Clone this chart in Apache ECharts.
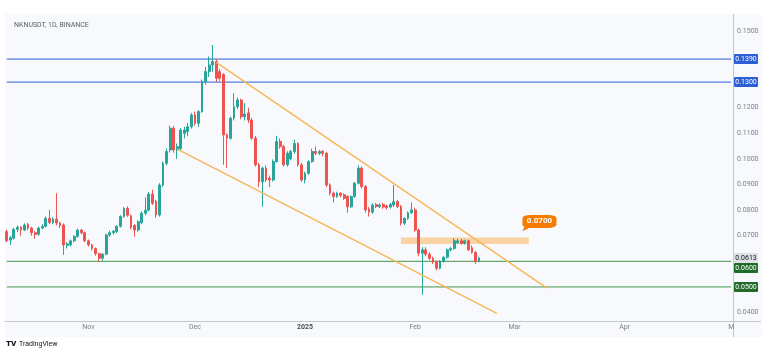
<!DOCTYPE html>
<html>
<head>
<meta charset="utf-8">
<script src="https://cdn.jsdelivr.net/npm/echarts@6/dist/echarts.min.js"></script>
<style>
  html, body { margin: 0; padding: 0; background: #fff; }
  #chart { width: 768px; height: 354px; }
</style>
</head>
<body>
<div id="chart"></div>
<script>
// daily candles NKNUSDT, first candle 2024-10-09
const startDate = '2024-10-09'
const dayCount = 205 // axis runs up to 2025-05-01

// [open, close, low, high]
const candles = [
  [0.0716, 0.0681, 0.0675, 0.0725], [0.0683, 0.0692, 0.0664, 0.0700], [0.0690, 0.0725, 0.0685, 0.0730],
  [0.0725, 0.0733, 0.0715, 0.0740], [0.0733, 0.0722, 0.0700, 0.0738], [0.0722, 0.0742, 0.0718, 0.0748],
  [0.0745, 0.0730, 0.0722, 0.0750], [0.0730, 0.0712, 0.0700, 0.0735], [0.0712, 0.0705, 0.0688, 0.0718],
  [0.0706, 0.0730, 0.0700, 0.0735], [0.0730, 0.0737, 0.0725, 0.0745], [0.0737, 0.0768, 0.0732, 0.0775],
  [0.0768, 0.0752, 0.0745, 0.0801], [0.0752, 0.0765, 0.0745, 0.0772], [0.0765, 0.0750, 0.0740, 0.0866],
  [0.0750, 0.0740, 0.0730, 0.0755], [0.0742, 0.0664, 0.0625, 0.0748], [0.0662, 0.0668, 0.0650, 0.0675],
  [0.0665, 0.0680, 0.0658, 0.0685], [0.0680, 0.0697, 0.0675, 0.0702], [0.0697, 0.0722, 0.0692, 0.0728],
  [0.0722, 0.0712, 0.0705, 0.0727], [0.0712, 0.0680, 0.0675, 0.0716], [0.0680, 0.0664, 0.0658, 0.0685],
  [0.0664, 0.0650, 0.0642, 0.0668], [0.0650, 0.0630, 0.0622, 0.0654], [0.0630, 0.0612, 0.0599, 0.0634],
  [0.0612, 0.0628, 0.0603, 0.0632], [0.0628, 0.0703, 0.0624, 0.0708], [0.0703, 0.0712, 0.0695, 0.0720],
  [0.0712, 0.0718, 0.0705, 0.0722], [0.0716, 0.0737, 0.0710, 0.0741], [0.0737, 0.0775, 0.0732, 0.0780],
  [0.0775, 0.0807, 0.0770, 0.0812], [0.0807, 0.0780, 0.0774, 0.0815], [0.0778, 0.0732, 0.0725, 0.0783],
  [0.0740, 0.0722, 0.0696, 0.0745], [0.0722, 0.0755, 0.0716, 0.0760], [0.0751, 0.0788, 0.0745, 0.0795],
  [0.0788, 0.0800, 0.0780, 0.0850], [0.0800, 0.0863, 0.0795, 0.0870], [0.0863, 0.0827, 0.0820, 0.0880],
  [0.0835, 0.0781, 0.0770, 0.0840], [0.0781, 0.0898, 0.0775, 0.0905], [0.0898, 0.0983, 0.0890, 0.0990],
  [0.0983, 0.1029, 0.0975, 0.1040], [0.1035, 0.1120, 0.1025, 0.1130], [0.1120, 0.1035, 0.1025, 0.1128],
  [0.1035, 0.1048, 0.1000, 0.1060], [0.1040, 0.1113, 0.1035, 0.1120], [0.1100, 0.1113, 0.1080, 0.1125],
  [0.1107, 0.1126, 0.1090, 0.1140], [0.1126, 0.1172, 0.1118, 0.1180], [0.1172, 0.1139, 0.1130, 0.1185],
  [0.1139, 0.1185, 0.1125, 0.1190], [0.1185, 0.1302, 0.1180, 0.1310], [0.1302, 0.1341, 0.1290, 0.1360],
  [0.1341, 0.1367, 0.1320, 0.1400], [0.1367, 0.1380, 0.1340, 0.1445], [0.1380, 0.1315, 0.1300, 0.1390],
  [0.1341, 0.1315, 0.1305, 0.1350], [0.1330, 0.1094, 0.0977, 0.1335], [0.1094, 0.1081, 0.0965, 0.1100],
  [0.1081, 0.1159, 0.1075, 0.1165], [0.1159, 0.1204, 0.1150, 0.1257], [0.1204, 0.1230, 0.1195, 0.1240],
  [0.1230, 0.1165, 0.1155, 0.1235], [0.1165, 0.1175, 0.1150, 0.1218], [0.1180, 0.1152, 0.1140, 0.1200],
  [0.1152, 0.1081, 0.1075, 0.1160], [0.1081, 0.0977, 0.0970, 0.1090], [0.0977, 0.0911, 0.0890, 0.0985],
  [0.0911, 0.0964, 0.0813, 0.0970], [0.0964, 0.0918, 0.0910, 0.0975], [0.0925, 0.0918, 0.0890, 0.0935],
  [0.0918, 0.0990, 0.0912, 0.0998], [0.0990, 0.1068, 0.0985, 0.1090], [0.1068, 0.1048, 0.1040, 0.1080],
  [0.1048, 0.0977, 0.0970, 0.1055], [0.0977, 0.1022, 0.0970, 0.1030], [0.1000, 0.1029, 0.0995, 0.1035],
  [0.1029, 0.1060, 0.1020, 0.1075], [0.1060, 0.0977, 0.0970, 0.1065], [0.0977, 0.0918, 0.0910, 0.0985],
  [0.0918, 0.0944, 0.0905, 0.0950], [0.0944, 0.0990, 0.0938, 0.0995], [0.0990, 0.1029, 0.0985, 0.1040],
  [0.1029, 0.1022, 0.1015, 0.1048], [0.1022, 0.1029, 0.1015, 0.1035], [0.1029, 0.1022, 0.1010, 0.1035],
  [0.1022, 0.0898, 0.0890, 0.1028], [0.0898, 0.0866, 0.0858, 0.0905], [0.0866, 0.0853, 0.0830, 0.0872],
  [0.0853, 0.0866, 0.0848, 0.0872], [0.0866, 0.0858, 0.0850, 0.0870], [0.0860, 0.0846, 0.0840, 0.0866],
  [0.0853, 0.0813, 0.0790, 0.0858], [0.0813, 0.0853, 0.0808, 0.0858], [0.0853, 0.0905, 0.0848, 0.0910],
  [0.0905, 0.0964, 0.0900, 0.0975], [0.0964, 0.0892, 0.0885, 0.0970], [0.0892, 0.0801, 0.0790, 0.0898],
  [0.0805, 0.0792, 0.0775, 0.0812], [0.0792, 0.0820, 0.0786, 0.0827], [0.0822, 0.0814, 0.0808, 0.0828],
  [0.0814, 0.0820, 0.0808, 0.0826], [0.0822, 0.0812, 0.0805, 0.0828], [0.0816, 0.0810, 0.0802, 0.0822],
  [0.0812, 0.0822, 0.0806, 0.0828], [0.0820, 0.0833, 0.0812, 0.0898], [0.0833, 0.0814, 0.0808, 0.0840],
  [0.0814, 0.0749, 0.0740, 0.0820], [0.0749, 0.0768, 0.0742, 0.0772], [0.0768, 0.0790, 0.0762, 0.0795],
  [0.0790, 0.0801, 0.0785, 0.0830], [0.0801, 0.0722, 0.0715, 0.0810], [0.0722, 0.0632, 0.0620, 0.0728],
  [0.0632, 0.0645, 0.0469, 0.0655], [0.0645, 0.0628, 0.0620, 0.0655], [0.0628, 0.0612, 0.0605, 0.0635],
  [0.0612, 0.0598, 0.0590, 0.0618], [0.0598, 0.0573, 0.0565, 0.0603], [0.0573, 0.0600, 0.0568, 0.0605],
  [0.0600, 0.0616, 0.0595, 0.0620], [0.0616, 0.0645, 0.0610, 0.0650], [0.0645, 0.0650, 0.0638, 0.0656],
  [0.0650, 0.0680, 0.0645, 0.0690], [0.0672, 0.0680, 0.0668, 0.0688], [0.0680, 0.0670, 0.0665, 0.0688],
  [0.0670, 0.0680, 0.0665, 0.0685], [0.0680, 0.0645, 0.0640, 0.0684], [0.0653, 0.0635, 0.0630, 0.0662],
  [0.0635, 0.0599, 0.0590, 0.0640], [0.0600, 0.0613, 0.0596, 0.0618]
]

const yTicks = [0.04, 0.07, 0.08, 0.09, 0.10, 0.11, 0.12, 0.15]
const monthNames = ['2025', 'Feb', 'Mar', 'Apr', 'M', 'Jun', 'Jul', 'Aug', 'Sep', 'Oct', 'Nov', 'Dec']

const blueLevels = [0.139, 0.130]
const greenLevels = [0.060, 0.050]
const lastPrice = 0.0613

// trend lines [categoryIndex, price]
const upperTrend = [[59, 0.1377], [152, 0.0496]]
const lowerTrend = [[48, 0.1038], [138, 0.0397]]
// resistance zone
const zone = { from: 111, to: 147, top: 0.0693, bottom: 0.0668 }
const zoneLabel = '0.0700'

// category dates
const dates = []
{
  const d = new Date(startDate + 'T00:00:00Z')
  for (let i = 0; i < dayCount; i++) {
    dates.push(d.toISOString().slice(0, 10))
    d.setUTCDate(d.getUTCDate() + 1)
  }
}

const UP = '#26a69a'
const DOWN = '#ef5350'
const BLUE = '#2c5fd6'
const GREEN = '#43954a'
const GREEN_TAG = '#1e6b2a'
const ORANGE = '#f7b75a'
const AXIS = '#c3c6ce'
const FONT = 'Roboto, "Open Sans", sans-serif'

// horizontal level as its own line series, full width of the axis
function levelSeries(value, color) {
  return {
    type: 'line',
    data: [[0, value], [dayCount - 1, value]],
    symbol: 'none',
    silent: true,
    z: 1,
    lineStyle: { color: color, width: 1 }
  }
}

const chart = echarts.init(document.getElementById('chart'), null, { renderer: 'canvas' })

const baseGraphic = [
  { id: 'panel', type: 'rect', z: -100, shape: { x: 5, y: 14, width: 757, height: 323 }, style: { fill: '#f8f9fc' } },
  // axis lines continue under the price scale / below the time scale
  { id: 'xext', type: 'line', shape: { x1: 733, y1: 321.5, x2: 761, y2: 321.5 }, style: { stroke: AXIS, lineWidth: 1 } },
  { id: 'yext', type: 'line', shape: { x1: 733.5, y1: 321, x2: 733.5, y2: 337 }, style: { stroke: AXIS, lineWidth: 1 } },
  { id: 'tv', type: 'text', left: 6, top: 340, style: { text: 'TV', font: '900 8px ' + FONT, fill: '#131722' } },
  { id: 'tvname', type: 'text', left: 19, top: 341, style: { text: 'TradingView', font: '7px ' + FONT, fill: '#131722' } }
]

const option = {
  animation: false,
  backgroundColor: '#ffffff',
  title: {
    text: 'NKNUSDT, 1D, BINANCE',
    left: 9,
    top: 17,
    textStyle: { fontSize: 7, fontWeight: 'normal', color: '#5d606b', fontFamily: FONT }
  },
  graphic: baseGraphic,
  grid: { left: 5, right: 35, top: 14, bottom: 33, containLabel: false },
  xAxis: {
    type: 'category',
    data: dates,
    boundaryGap: true,
    axisLine: { lineStyle: { color: AXIS } },
    axisTick: { show: false },
    splitLine: { show: false },
    axisLabel: {
      interval: (idx, val) => val.slice(8, 10) === '01',
      formatter: (val) => {
        const m = parseInt(val.slice(5, 7), 10)
        return m === 1 ? '{y|2025}' : monthNames[m - 1]
      },
      rich: { y: { fontSize: 7, fontWeight: 'bold', color: '#4a4d57', fontFamily: FONT } },
      fontSize: 7,
      color: '#7b7f8a',
      fontFamily: FONT,
      margin: 3
    }
  },
  yAxis: {
    type: 'value',
    position: 'right',
    min: 0.0367,
    max: 0.1566,
    scale: true,
    axisLine: { show: true, lineStyle: { color: AXIS } },
    axisTick: { show: false },
    splitLine: { show: false },
    axisLabel: {
      customValues: yTicks,
      formatter: (v) => v.toFixed(4),
      fontSize: 7,
      color: '#7b7f8a',
      fontFamily: FONT,
      margin: 4
    }
  },
  series: [
    levelSeries(blueLevels[0], BLUE),
    levelSeries(blueLevels[1], BLUE),
    levelSeries(greenLevels[0], GREEN),
    levelSeries(greenLevels[1], GREEN),
    {
      name: 'NKNUSDT',
      type: 'candlestick',
      data: candles,
      barWidth: '65%',
      z: 3,
      itemStyle: { color: UP, color0: DOWN, borderColor: UP, borderColor0: DOWN, borderWidth: 1 },
      markArea: {
        silent: true,
        data: [[
          { coord: [zone.from, zone.top], itemStyle: { color: 'rgba(250, 180, 90, 0.55)' } },
          { coord: [zone.to, zone.bottom] }
        ]]
      },
      markPoint: {
        silent: true,
        animation: false,
        data: [
          {
            coord: [146, 0.0729],
            symbol: 'triangle',
            symbolSize: [6, 8],
            symbolRotate: 135,
            itemStyle: { color: '#f57c00' },
            label: { show: false }
          },
          {
            coord: [150, 0.0756],
            symbol: 'roundRect',
            symbolSize: [34, 13],
            itemStyle: { color: '#f57c00' },
            label: {
              show: true,
              position: 'inside',
              formatter: zoneLabel,
              color: '#fff',
              fontSize: 8,
              fontWeight: 'bold',
              fontFamily: FONT
            }
          }
        ]
      }
    },
    {
      name: 'upper',
      type: 'line',
      data: upperTrend,
      symbol: 'none',
      silent: true,
      z: 4,
      lineStyle: { color: ORANGE, width: 1.5 }
    },
    {
      name: 'lower',
      type: 'line',
      data: lowerTrend,
      symbol: 'none',
      silent: true,
      z: 4,
      lineStyle: { color: ORANGE, width: 1.5 }
    }
  ]
}

chart.setOption(option)

// price tags on the right scale, pushed apart like TradingView does
const tags = [
  { value: blueLevels[0], bg: BLUE, color: '#fff' },
  { value: blueLevels[1], bg: BLUE, color: '#fff' },
  { value: lastPrice, bg: '#dfe1e6', color: '#131722' },
  { value: greenLevels[0], bg: GREEN_TAG, color: '#fff' },
  { value: greenLevels[1], bg: GREEN_TAG, color: '#fff' }
]
const TAG_H = 10
let prevBottom = -Infinity
const tagGraphic = []
tags.forEach((t, i) => {
  let y = chart.convertToPixel({ yAxisIndex: 0 }, t.value)
  if (y - TAG_H / 2 < prevBottom) y = prevBottom + TAG_H / 2
  prevBottom = y + TAG_H / 2
  tagGraphic.push({
    id: 'tag' + i,
    type: 'group',
    x: 734,
    y: y - TAG_H / 2,
    z: 10,
    children: [
      { type: 'rect', shape: { x: 0, y: 0, width: 24, height: TAG_H, r: 1 }, style: { fill: t.bg } },
      {
        type: 'text',
        x: 12,
        y: TAG_H / 2 + 0.5,
        style: { text: t.value.toFixed(4), fill: t.color, font: '7px ' + FONT, align: 'center', verticalAlign: 'middle' }
      }
    ]
  })
})
chart.setOption({ graphic: baseGraphic.concat(tagGraphic) })
</script>
</body>
</html>
